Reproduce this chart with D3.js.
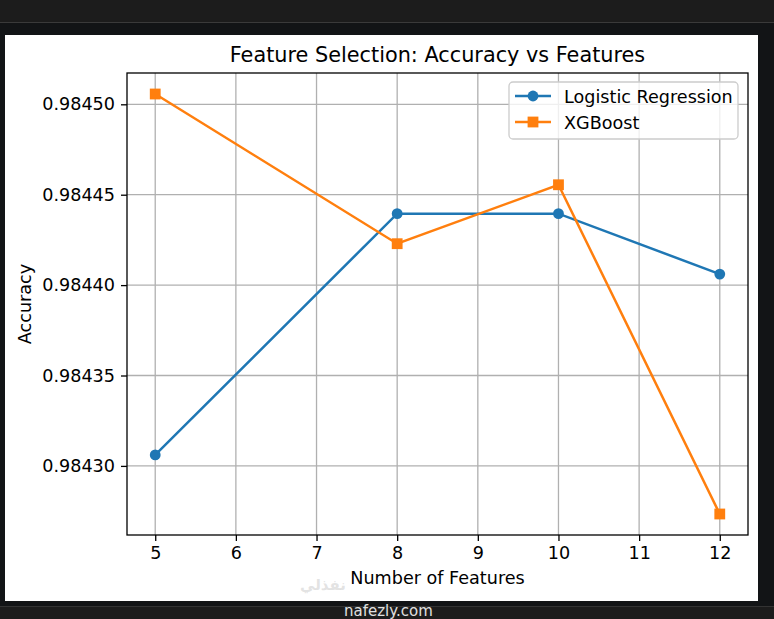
<!DOCTYPE html>
<html>
<head>
<meta charset="utf-8">
<script src="https://cdn.jsdelivr.net/npm/d3@7"></script>
<style>
  html, body { margin: 0; padding: 0; background: #121416; }
  svg { display: block; }
  text { font-family: "DejaVu Sans", sans-serif; }
</style>
</head>
<body>
<div id="chart"></div>
<script>
const features = [5, 8, 10, 12];
const logisticAcc = [0.9843061, 0.9844395, 0.9844395, 0.9844061];
const xgboostAcc = [0.9845057, 0.9844229, 0.9844555, 0.9842734];
const xTicks = [5, 6, 7, 8, 9, 10, 11, 12];
const yTicks = [0.9843, 0.98435, 0.9844, 0.98445, 0.9845];
const seriesNames = ["Logistic Regression", "XGBoost"];
const seriesColors = ["#1f77b4", "#ff7f0e"];

const W = 774, H = 619;
const frame = { left: 5, top: 35, right: 758, bottom: 601 };
const plot = { left: 127, top: 73, right: 748, bottom: 535 };
const fs = 17.6;

const svg = d3.select("#chart").append("svg")
  .attr("width", W).attr("height", H);

// dark page around the figure
svg.append("rect").attr("width", W).attr("height", H).attr("fill", "#121416");
svg.append("rect").attr("width", W).attr("height", 22).attr("fill", "#1c1c1c");
svg.append("line").attr("x1", 0).attr("x2", W).attr("y1", 22.5).attr("y2", 22.5)
  .attr("stroke", "#3a3a3a");
svg.append("rect").attr("y", 607).attr("width", W).attr("height", H - 607).attr("fill", "#1c1c1c");
svg.append("line").attr("x1", 0).attr("x2", W).attr("y1", 606.5).attr("y2", 606.5)
  .attr("stroke", "#333");

// figure background
svg.append("rect")
  .attr("x", frame.left).attr("y", frame.top)
  .attr("width", frame.right - frame.left).attr("height", frame.bottom - frame.top)
  .attr("fill", "white");

const allVals = logisticAcc.concat(xgboostAcc);
const yMin = d3.min(allVals), yMax = d3.max(allVals);
const yPad = (yMax - yMin) * 0.05;
const xPad = (d3.max(features) - d3.min(features)) * 0.05;

const x = d3.scaleLinear()
  .domain([d3.min(features) - xPad, d3.max(features) + xPad])
  .range([plot.left, plot.right]);
const y = d3.scaleLinear()
  .domain([yMin - yPad, yMax + yPad])
  .range([plot.bottom, plot.top]);

const g = svg.append("g");

// grid
g.selectAll("line.gx").data(xTicks).enter().append("line")
  .attr("class", "gx")
  .attr("x1", (d) => x(d)).attr("x2", (d) => x(d))
  .attr("y1", plot.top).attr("y2", plot.bottom)
  .attr("stroke", "#b0b0b0").attr("stroke-width", 1.3);
g.selectAll("line.gy").data(yTicks).enter().append("line")
  .attr("class", "gy")
  .attr("x1", plot.left).attr("x2", plot.right)
  .attr("y1", (d) => y(d)).attr("y2", (d) => y(d))
  .attr("stroke", "#b0b0b0").attr("stroke-width", 1.3);

// axes
const xAxis = g.append("g")
  .attr("transform", `translate(0,${plot.bottom})`)
  .call(d3.axisBottom(x).tickValues(xTicks).tickFormat(d3.format("d"))
    .tickSize(6).tickPadding(6));
const yAxis = g.append("g")
  .attr("transform", `translate(${plot.left},0)`)
  .call(d3.axisLeft(y).tickValues(yTicks).tickFormat(d3.format(".5f"))
    .tickSize(6).tickPadding(6));
[xAxis, yAxis].forEach((a) => {
  a.select(".domain").remove();
  a.selectAll(".tick line").attr("stroke", "black").attr("stroke-width", 1.3);
  a.selectAll(".tick text")
    .attr("fill", "black")
    .style("font-family", "DejaVu Sans")
    .style("font-size", fs + "px");
});

// spines
g.append("rect")
  .attr("x", plot.left).attr("y", plot.top)
  .attr("width", plot.right - plot.left).attr("height", plot.bottom - plot.top)
  .attr("fill", "none").attr("stroke", "black").attr("stroke-width", 1.3);

// series
const line = d3.line().x((d) => x(d[0])).y((d) => y(d[1]));
const lrData = features.map((f, i) => [f, logisticAcc[i]]);
const xgData = features.map((f, i) => [f, xgboostAcc[i]]);

g.append("path").attr("d", line(lrData)).attr("fill", "none")
  .attr("stroke", seriesColors[0]).attr("stroke-width", 2.5);
g.selectAll("circle.lr").data(lrData).enter().append("circle")
  .attr("class", "lr")
  .attr("cx", (d) => x(d[0])).attr("cy", (d) => y(d[1])).attr("r", 5.4)
  .attr("fill", seriesColors[0]);

g.append("path").attr("d", line(xgData)).attr("fill", "none")
  .attr("stroke", seriesColors[1]).attr("stroke-width", 2.5);
g.selectAll("rect.xg").data(xgData).enter().append("rect")
  .attr("class", "xg")
  .attr("x", (d) => x(d[0]) - 5.4).attr("y", (d) => y(d[1]) - 5.4)
  .attr("width", 10.8).attr("height", 10.8)
  .attr("fill", seriesColors[1]);

// title and labels
svg.append("text")
  .attr("x", (plot.left + plot.right) / 2).attr("y", 62)
  .attr("text-anchor", "middle")
  .style("font-size", "20.8px")
  .text("Feature Selection: Accuracy vs Features");
svg.append("text")
  .attr("x", (plot.left + plot.right) / 2).attr("y", 584)
  .attr("text-anchor", "middle")
  .style("font-size", fs + "px")
  .text("Number of Features");
svg.append("text")
  .attr("transform", `translate(31,${(plot.top + plot.bottom) / 2}) rotate(-90)`)
  .attr("text-anchor", "middle")
  .style("font-size", fs + "px")
  .text("Accuracy");

// legend
const legend = svg.append("g").attr("transform", "translate(509,82)");
legend.append("rect")
  .attr("width", 229).attr("height", 57).attr("rx", 4)
  .attr("fill", "white").attr("fill-opacity", 0.8)
  .attr("stroke", "#cccccc").attr("stroke-width", 1.3);
seriesNames.forEach((name, i) => {
  const row = legend.append("g").attr("transform", `translate(0,${14 + i * 26})`);
  row.append("line").attr("x1", 6).attr("x2", 42)
    .attr("stroke", seriesColors[i]).attr("stroke-width", 2.5);
  if (i === 0) {
    row.append("circle").attr("cx", 24).attr("r", 5.4).attr("fill", seriesColors[i]);
  } else {
    row.append("rect").attr("x", 18.6).attr("y", -5.4).attr("width", 10.8).attr("height", 10.8)
      .attr("fill", seriesColors[i]);
  }
  row.append("text").attr("x", 55).attr("y", 6.5)
    .style("font-size", fs + "px")
    .text(name);
});

// watermark
svg.append("text")
  .attr("x", 300).attr("y", 590)
  .style("font-size", "15px").style("font-weight", "bold")
  .attr("fill", "#d0d0d0").attr("fill-opacity", 0.6)
  .text("نفذلي");
svg.append("text")
  .attr("x", 344).attr("y", 616)
  .style("font-size", "15px")
  .attr("fill", "#e0e0e0")
  .text("nafezly.com");
</script>
</body>
</html>
